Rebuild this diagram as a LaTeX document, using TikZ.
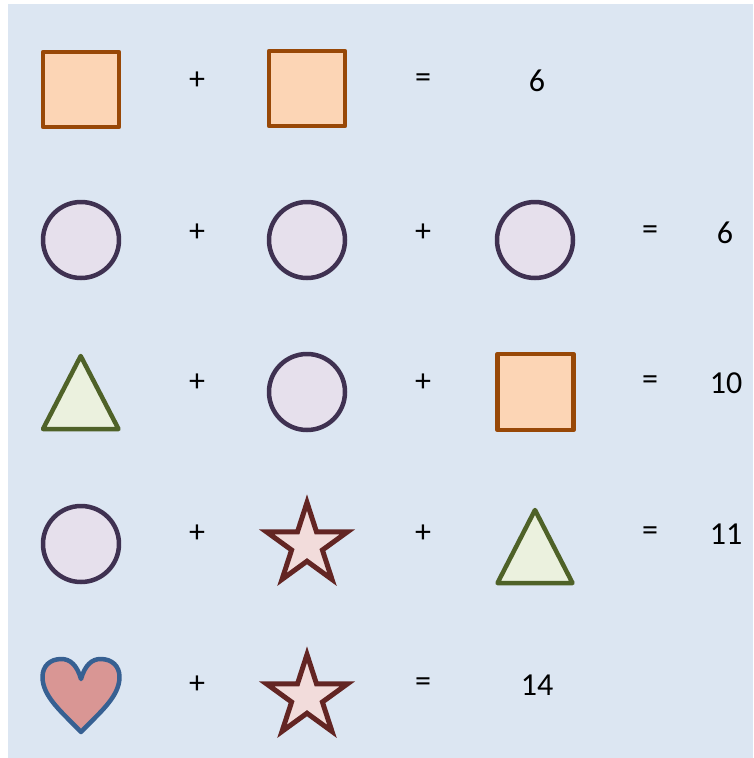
\documentclass[tikz,border=0pt]{standalone}
\usepackage{fontspec}
\setmainfont{Carlito}
\definecolor{bgblue}{HTML}{DCE6F2}
\definecolor{sqfill}{HTML}{FCD5B5}
\definecolor{sqline}{HTML}{984807}
\definecolor{cifill}{HTML}{E6E0EC}
\definecolor{ciline}{HTML}{3F3151}
\definecolor{trfill}{HTML}{EBF1DE}
\definecolor{trline}{HTML}{4F6228}
\definecolor{stfill}{HTML}{F2DCDB}
\definecolor{stline}{HTML}{632523}
\definecolor{hefill}{HTML}{D99694}
\definecolor{heline}{HTML}{376092}
\begin{document}
\begin{tikzpicture}[x=1pt,y=-1pt,
  shp/.style={line width=4.5pt,line join=round},
  sq/.style={shp,draw=sqline,fill=sqfill},
  ci/.style={shp,draw=ciline,fill=cifill},
  tr/.style={shp,draw=trline,fill=trfill},
  st/.style={line width=5pt,line join=miter,draw=stline,fill=stfill},
  he/.style={shp,draw=heline,fill=hefill},
  txt/.style={inner sep=0pt,font=\fontsize{32}{38}\selectfont}]
\useasboundingbox (0,0) rectangle (753,758);
\fill[bgblue] (8,4) rectangle (753,758);
% row 1
\draw[sq] (43,52) rectangle (119,127);
\node[txt] (p11) at (197,81) {+};
\draw[sq] (269,51) rectangle (345,126);
\node[txt] (e1) at (423,81) {=};
\node[txt] (r1) at (537,81) {6};
% row 2
\draw[ci] (81,240) circle (38);
\node[txt] (p21) at (197,233) {+};
\draw[ci] (307,240) circle (38);
\node[txt] (p22) at (423,233) {+};
\draw[ci] (535,240) circle (38);
\node[txt] (e2) at (650,233) {=};
\node[txt] (r2) at (725,233) {6};
% row 3
\draw[tr] (80.7,356) -- (118.5,429) -- (43,429) -- cycle;
\node[txt] (p31) at (197,383) {+};
\draw[ci] (307,392) circle (38);
\node[txt] (p32) at (423,383) {+};
\draw[sq] (497.5,354) rectangle (573.5,430);
\node[txt] (e3) at (650,383) {=};
\node[txt] (r3) at (726,383) {10};
% row 4
\draw[ci] (81,544) circle (38);
\node[txt] (p41) at (197,534) {+};
\begin{scope}[shift={(307,545)}]
\draw[st] (-90:42.5) -- (-54:16.2) -- (-18:42.5) -- (18:16.2) -- (54:42.5) -- (90:16.2) -- (126:42.5) -- (162:16.2) -- (198:42.5) -- (234:16.2) -- cycle;
\end{scope}
\node[txt] (p42) at (423,534) {+};
\draw[tr] (535,510) -- (572.5,583) -- (497.5,583) -- cycle;
\node[txt] (e4) at (650,534) {=};
\node[txt] (r4) at (726,534) {11};
% row 5
\draw[he] (81,679) .. controls (77,665) and (70,659) .. (61.5,659)
  .. controls (50,659) and (42.5,666) .. (42.5,677)
  .. controls (42.5,697) and (63,713) .. (81,732)
  .. controls (99,713) and (119.5,697) .. (119.5,677)
  .. controls (119.5,666) and (112,659) .. (100.5,659)
  .. controls (92,659) and (85,665) .. (81,679) -- cycle;
\node[txt] (p51) at (197,685) {+};
\begin{scope}[shift={(307,697)}]
\draw[st] (-90:42.5) -- (-54:16.2) -- (-18:42.5) -- (18:16.2) -- (54:42.5) -- (90:16.2) -- (126:42.5) -- (162:16.2) -- (198:42.5) -- (234:16.2) -- cycle;
\end{scope}
\node[txt] (e5) at (423,685) {=};
\node[txt] (r5) at (537,685) {14};
\end{tikzpicture}
\end{document}
